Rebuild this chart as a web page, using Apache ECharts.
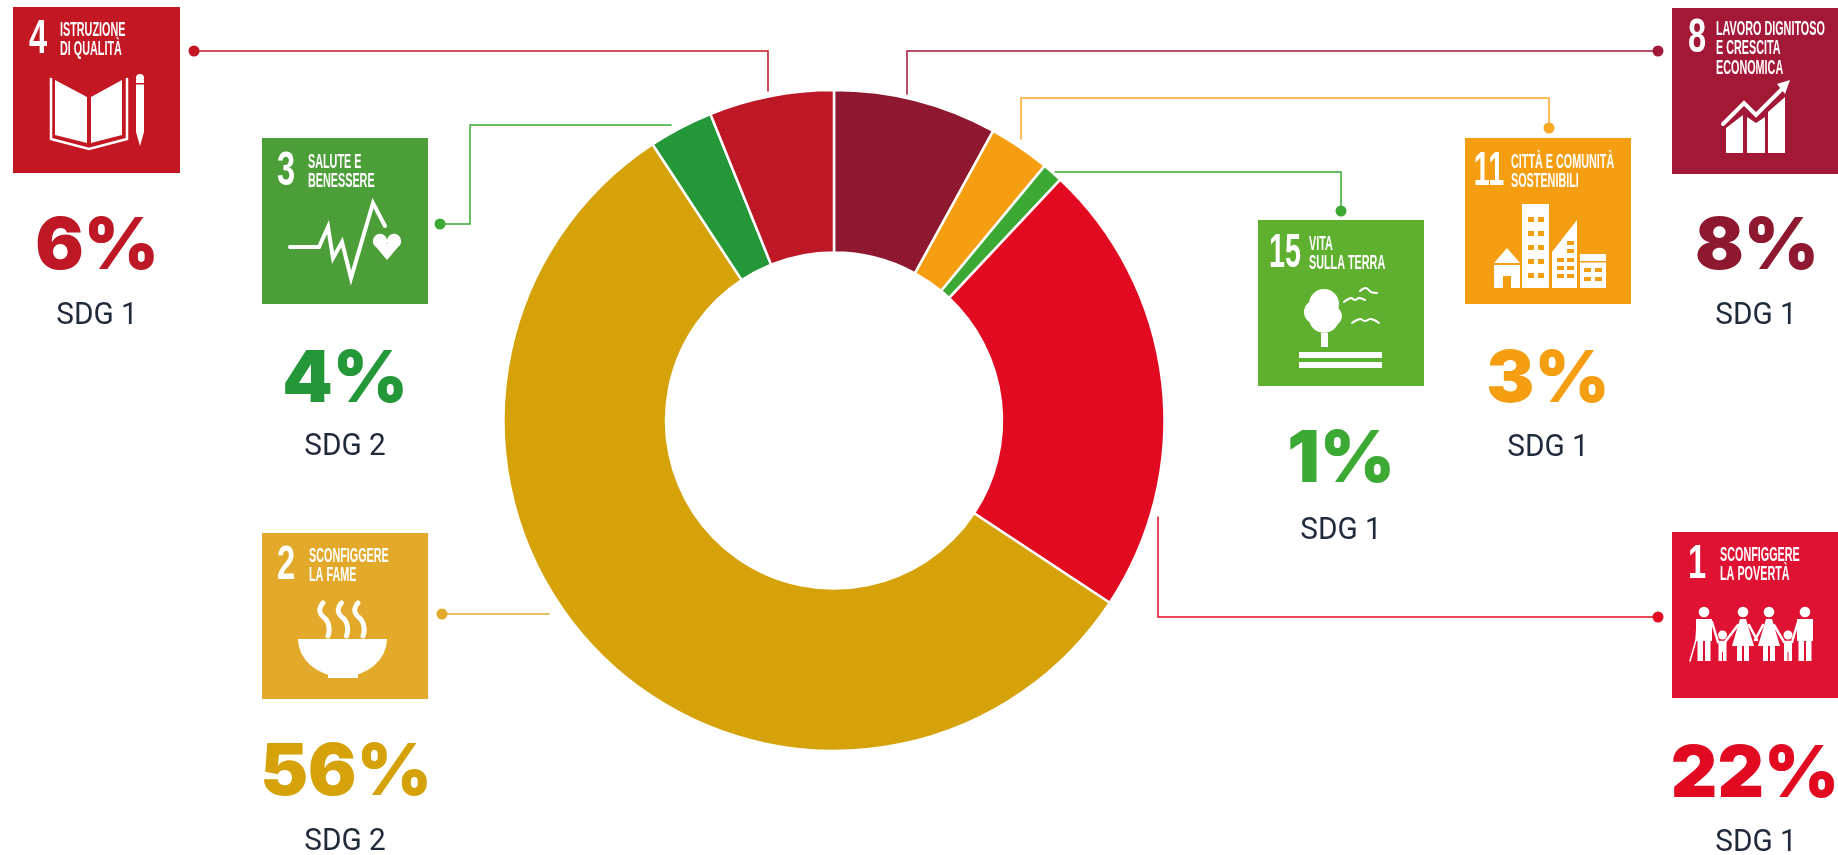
<!DOCTYPE html>
<html>
<head>
<meta charset="utf-8">
<title>SDG</title>
<script src="https://cdn.jsdelivr.net/npm/echarts@6/dist/echarts.min.js"></script>
<style>
  html, body { margin: 0; background: #fff; }
  #chart { width: 1838px; height: 855px; }
</style>
</head>
<body>
<div id="chart"></div>
<script>
const goalNames = ['SDG 8', 'SDG 11', 'SDG 15', 'SDG 1', 'SDG 2', 'SDG 3', 'SDG 4']
const goalShares = [8, 3, 1, 22.3, 56.45, 3.15, 6.1]
const printedShares = ['8%', '3%', '1%', '22%', '56%', '4%', '6%']
const impactLabels = ['SDG 1', 'SDG 1', 'SDG 1', 'SDG 1', 'SDG 2', 'SDG 2', 'SDG 1']
const goalNumbers = ['8', '11', '15', '1', '2', '3', '4']
const goalTitles = [
  ['LAVORO DIGNITOSO', 'E CRESCITA', 'ECONOMICA'],
  ['CITTÀ E COMUNITÀ', 'SOSTENIBILI'],
  ['VITA', 'SULLA TERRA'],
  ['SCONFIGGERE', 'LA POVERTÀ'],
  ['SCONFIGGERE', 'LA FAME'],
  ['SALUTE E', 'BENESSERE'],
  ['ISTRUZIONE', 'DI QUALITÀ']
]

const sliceColors = ['#8e1830', '#f59e12', '#3da935', '#e20a20', '#d6a209', '#249738', '#be1725']
const tileColors = ['#a31737', '#f59e12', '#5eb02e', '#df1233', '#e2a92b', '#4c9f38', '#c31723']
const lineColors = ['#a31737', '#f9a825', '#3da935', '#e20a20', '#e2a92b', '#3da935', '#c31723']

// layout of the tiles around the ring, same order as goalNames
const tiles = [
  { x: 1672, y: 8, w: 166, numX: 1697, numY: 39, textX: 1716, textY: 29, pctX: 1757, pctY: 247, subY: 316, subX: 1756 },
  { x: 1465, y: 138, w: 166, numX: 1489, numY: 172, textX: 1511, textY: 162, pctX: 1548, pctY: 380, subY: 448, subX: 1548 },
  { x: 1258, y: 220, w: 166, numX: 1285, numY: 254, textX: 1309, textY: 244, pctX: 1341, pctY: 460, subY: 531, subX: 1341 },
  { x: 1672, y: 532, w: 167, numX: 1697, numY: 565, textX: 1720, textY: 555, pctX: 1755, pctY: 775, subY: 843, subX: 1756 },
  { x: 262, y: 533, w: 166, numX: 286, numY: 566, textX: 309, textY: 556, pctX: 346, pctY: 773, subY: 842, subX: 345 },
  { x: 262, y: 138, w: 166, numX: 286, numY: 172, textX: 308, textY: 162, pctX: 345, pctY: 380, subY: 447, subX: 345 },
  { x: 13, y: 7, w: 167, numX: 38, numY: 40, textX: 60, textY: 30, pctX: 97, pctY: 247, subY: 316, subX: 97 }
]
const leaders = [
  [[1658, 51], [907, 51], [907, 94]],
  [[1549, 128], [1549, 98], [1021, 98], [1021, 139]],
  [[1341, 211], [1341, 172], [1055, 172]],
  [[1658, 617], [1158, 617], [1158, 517]],
  [[442, 614], [549, 614]],
  [[440, 224], [470, 224], [470, 125], [671, 125]],
  [[194, 51], [768, 51], [768, 91]]
]

const els = []
const W = '#fff'

function rect(x, y, w, h, fill) {
  els.push({ type: 'rect', silent: true, shape: { x, y, width: w, height: h }, style: { fill } })
}
function dot(cx, cy, r, fill) {
  els.push({ type: 'circle', silent: true, shape: { cx, cy, r }, style: { fill } })
}
function poly(points, fill) {
  els.push({ type: 'polygon', silent: true, shape: { points }, style: { fill } })
}
function line(points, stroke, lineWidth, smooth) {
  els.push({
    type: 'polyline', silent: true, shape: { points, smooth: smooth || 0 },
    style: { stroke, lineWidth, fill: null, lineCap: 'round', lineJoin: 'miter' }
  })
}
function label(text, x, y, fontSize, fontWeight, fontFamily, fill, align, scaleX) {
  els.push({
    type: 'text', silent: true, x, y, scaleX: scaleX || 1,
    style: { text, fontSize, fontWeight, fontFamily, fill, align: align || 'center', verticalAlign: 'middle' }
  })
}

function drawBook() {
  poly([[55, 80], [87, 97], [87, 143], [55, 135]], W)
  poly([[91, 97], [122, 80], [122, 135], [91, 143]], W)
  line([[51, 79], [51, 139], [89, 149], [127, 139], [127, 79]], W, 2.5)
  rect(136, 80, 8, 52, W)
  dot(140, 78, 4, W)
  poly([[136, 132], [144, 132], [140, 146]], W)
  rect(136, 83, 8, 1.5, tileColors[6])
}
function drawPulse() {
  line([[290, 247], [319, 247], [328, 227], [333, 258], [342, 242], [351, 278], [373, 203], [385, 226]], W, 4)
  dot(380, 241, 7.2, W)
  dot(394, 241, 7.2, W)
  poly([[373.5, 244], [400.5, 244], [387, 260]], W)
}
function drawBowl() {
  els.push({
    type: 'sector', silent: true, scaleY: 0.85, originX: 342.5, originY: 639,
    shape: { cx: 342.5, cy: 639, r0: 0, r: 44.5, startAngle: 0, endAngle: Math.PI, clockwise: true },
    style: { fill: W }
  })
  rect(328, 672, 30, 6, W)
  ;[0, 18.5, 35].forEach(dx => {
    line([[323 + dx, 603], [320 + dx, 612], [328 + dx, 623], [328 + dx, 636]], W, 5, 0.6)
  })
}
function drawGrowth() {
  poly([[1726, 128], [1743, 115], [1743, 153], [1726, 153]], W)
  poly([[1747, 117], [1756, 123], [1765, 117], [1765, 153], [1747, 153]], W)
  poly([[1768, 112], [1785, 97], [1785, 153], [1768, 153]], W)
  line([[1723, 124], [1744, 103], [1756, 115], [1784, 87]], W, 4)
  poly([[1790, 80], [1785, 94], [1777, 84]], W)
}
function drawCity() {
  const bg = tileColors[1]
  // house
  poly([[1507, 248], [1520, 263], [1494, 263]], W)
  rect(1494, 265, 26, 23, W)
  rect(1503, 276, 8, 12, bg)
  // tower
  rect(1522, 204, 27, 84, W)
  ;[217, 231, 245, 259, 273].forEach(y => {
    rect(1528, y, 6, 5, bg)
    rect(1538, y, 6, 5, bg)
  })
  // slanted block
  poly([[1577, 220], [1577, 288], [1552, 288], [1552, 252]], W)
  ;[258, 266, 274].forEach(y => {
    rect(1557, y, 7, 4, bg)
    rect(1567, y, 7, 4, bg)
  })
  rect(1567, 241, 7, 4, bg)
  rect(1567, 249, 7, 4, bg)
  // low block
  rect(1580, 254, 26, 34, W)
  rect(1580, 261, 26, 1.5, bg)
  ;[268, 277].forEach(y => {
    rect(1584, y, 7, 4, bg)
    rect(1595, y, 7, 4, bg)
  })
}
function drawTree() {
  dot(1324, 304, 15, W)
  dot(1316, 312, 12, W)
  dot(1324, 318, 15, W)
  dot(1332, 316, 10, W)
  rect(1321, 333, 7, 14, W)
  rect(1299, 352, 83, 6, W)
  rect(1299, 362, 83, 6, W)
  line([[1344, 302], [1351, 298], [1355, 300], [1359, 298], [1365, 300]], W, 2, 0.4)
  line([[1360, 291], [1366, 288], [1371, 292], [1377, 293]], W, 2, 0.4)
  line([[1352, 323], [1360, 319], [1365, 321], [1371, 319], [1379, 323]], W, 2, 0.4)
}
function drawFamily() {
  const man = cx => {
    dot(cx, 612, 5.3, W)
    rect(cx - 8, 619, 16, 22, W)
    rect(cx - 6.5, 641, 5.5, 20, W)
    rect(cx + 1, 641, 5.5, 20, W)
  }
  const woman = cx => {
    dot(cx, 612, 5.3, W)
    poly([[cx - 3, 619], [cx + 3, 619], [cx + 11, 646], [cx - 11, 646]], W)
    rect(cx - 6, 646, 5, 15, W)
    rect(cx + 1, 646, 5, 15, W)
  }
  const child = cx => {
    dot(cx, 635, 4.5, W)
    rect(cx - 4, 641, 8, 11, W)
    rect(cx - 4, 652, 3.5, 9, W)
    rect(cx + 0.5, 652, 3.5, 9, W)
  }
  man(1704)
  woman(1743)
  woman(1769)
  man(1805)
  child(1722.5)
  child(1788)
  line([[1697, 626], [1696, 640], [1690, 661]], W, 1.5)
  line([[1712, 622], [1718, 642], [1725, 642], [1738, 625]], W, 2.5)
  line([[1774, 625], [1784, 642], [1792, 642], [1798, 622]], W, 2.5)
  line([[1749, 625], [1757, 640]], W, 2.5)
  line([[1763, 625], [1755, 640]], W, 2.5)
}
const icons = [drawGrowth, drawCity, drawTree, drawFamily, drawBowl, drawPulse, drawBook]

const titleFont = '"Liberation Sans", sans-serif'

goalNames.forEach((name, i) => {
  const t = tiles[i]
  rect(t.x, t.y, t.w, 166, tileColors[i])
  label(goalNumbers[i], t.numX, t.numY, 48, 700, titleFont, W, 'center', goalNumbers[i].length > 1 ? 0.6 : 0.68)
  goalTitles[i].forEach((row, j) => {
    label(row, t.textX, t.textY + j * 19.5, 20, 700, titleFont, W, 'left', 0.54)
  })
  icons[i]()

  const path = leaders[i]
  line(path, lineColors[i], 1.5)
  dot(path[0][0], path[0][1], 5.5, lineColors[i])

  label(printedShares[i], t.pctX, t.pctY, 72, 900, 'Inter, sans-serif', sliceColors[i])
  label(impactLabels[i], t.subX, t.subY, 31, 400, 'Roboto, sans-serif', '#1f2a3a', 'center', 0.96)
})

const chart = echarts.init(document.getElementById('chart'))
chart.setOption({
  backgroundColor: '#fff',
  animation: false,
  tooltip: { show: false },
  series: [
    {
      type: 'pie',
      silent: true,
      center: [834, 420.5],
      radius: [168, 330.5],
      startAngle: 90,
      clockwise: true,
      label: { show: false },
      labelLine: { show: false },
      itemStyle: { borderColor: '#fff', borderWidth: 2.5 },
      data: goalNames.map((name, i) => ({
        name,
        value: goalShares[i],
        itemStyle: { color: sliceColors[i] }
      }))
    }
  ],
  graphic: { elements: els }
})
</script>
</body>
</html>
